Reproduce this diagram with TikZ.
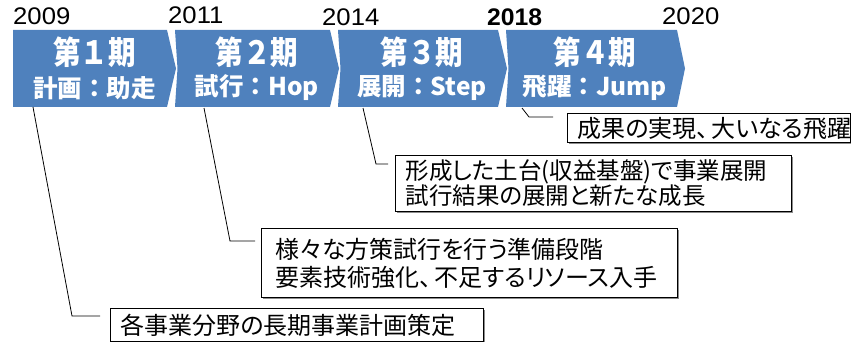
\documentclass[tikz,border=0pt]{standalone}
\usepackage{fontspec}
\usepackage{graphicx}
\setmainfont{Liberation Sans}
\newfontfamily\jp[RawFeature=+palt]{Noto Sans CJK JP}
\newfontfamily\jpc{Noto Sans CJK JP}
\usetikzlibrary{shadows,calc}
\definecolor{chevblue}{HTML}{4F81BD}
\newcommand{\yrtxt}[1]{\scalebox{1.07}[1]{#1}}
\newcommand{\chtop}[1]{\scalebox{0.86}[1]{#1}}
\begin{document}
\begin{tikzpicture}[x=1pt,y=-1pt,
  chev/.style={fill=chevblue},
  chevtop/.style={text=white, font=\jpc\bfseries\fontsize{32}{32}\selectfont, inner sep=0},
  chevbot/.style={text=white, font=\jpc\bfseries\fontsize{24.5}{24.5}\selectfont, inner sep=0},
  year/.style={font=\fontsize{24}{24}\selectfont, anchor=base west, inner sep=0},
  note/.style={draw=black, line width=1.1pt, fill=white, align=left, anchor=north west,
    inner ysep=0, general shadow={fill=black!45, shadow xshift=1.2pt, shadow yshift=-1.2pt}},
  conn/.style={draw=black, line width=0.8pt}]
\useasboundingbox (0,0) rectangle (851,342);

% chevrons
\fill[chev] (13,30)--(167,30)--(176,68.5)--(167,107)--(13,107)--cycle;
\fill[chev] (175,30)--(330,30)--(339,68.5)--(330,107)--(175,107)--(177.5,68.5)--cycle;
\fill[chev] (338,30)--(498,30)--(507,68.5)--(498,107)--(338,107)--(340.5,68.5)--cycle;
\fill[chev] (506,30)--(677,30)--(685,68.5)--(677,107)--(506,107)--(508.5,68.5)--cycle;

\node[chevtop] (t1a) at (94.5,52) {\chtop{第１期}};
\node[chevbot] (t1b) at (94.5,88) {計画：助走};
\node[chevtop] (t2a) at (257,52) {\chtop{第２期}};
\node[chevbot] (t2b) at (257,88) {試行：Hop};
\node[chevtop] (t3a) at (422,52) {\chtop{第３期}};
\node[chevbot] (t3b) at (422,88) {展開：Step};
\node[chevtop] (t4a) at (595,52) {\chtop{第４期}};
\node[chevbot] (t4b) at (595,88) {飛躍：Jump};

% years
\node[year] (y1) at (13,25) {\yrtxt{2009}};
\node[year] (y2) at (168,23.5) {\yrtxt{2011}};
\node[year] (y3) at (322,26) {\yrtxt{2014}};
\node[year,font=\bfseries\fontsize{24}{24}\selectfont] (y4) at (487,26) {\scalebox{1.03}[1]{2018}};
\node[year] (y5) at (662,25) {\yrtxt{2020}};

% notes
\node[note, inner xsep=10pt, text width=263pt, minimum height=29pt,
  font=\jp\fontsize{24}{25}\selectfont] (A) at (567,113) {成果の実現、\kern3pt 大いなる飛躍};
\node[note, inner xsep=10pt, text width=376pt, minimum height=56pt,
  font=\jp\fontsize{23.5}{25}\selectfont] (B) at (395,155)
  {形成した土台(収益基盤)で事業展開\\試行結果の展開と新たな成長};
\node[note, inner xsep=14pt, text width=388pt, minimum height=69pt,
  font=\jp\fontsize{24}{28}\selectfont] (C) at (261,228)
  {様々な方策試行を行う準備段階\\要素技術強化、\kern3pt 不足するリソース入手};
\node[note, inner xsep=10pt, text width=353pt, minimum height=33pt,
  font=\jp\fontsize{24}{25}\selectfont] (D) at (110,308) {各事業分野の長期事業計画策定};

% connectors
\coordinate (s1) at (33,107);  \coordinate (k1) at (72,316);  \coordinate (e1) at (100,316);
\coordinate (s2) at (204,108); \coordinate (k2) at (230,241); \coordinate (e2) at (255,241);
\coordinate (s3) at (363,108); \coordinate (k3) at (376,164); \coordinate (e3) at (388,164);
\coordinate (s4) at (522,108); \coordinate (k4) at (529,117); \coordinate (e4) at (553,117);
\draw[conn] (s1) -- (k1) -- (e1);
\draw[conn] (s2) -- (k2) -- (e2);
\draw[conn] (s3) -- (k3) -- (e3);
\draw[conn] (s4) -- (k4) -- (e4);
\end{tikzpicture}
\end{document}
